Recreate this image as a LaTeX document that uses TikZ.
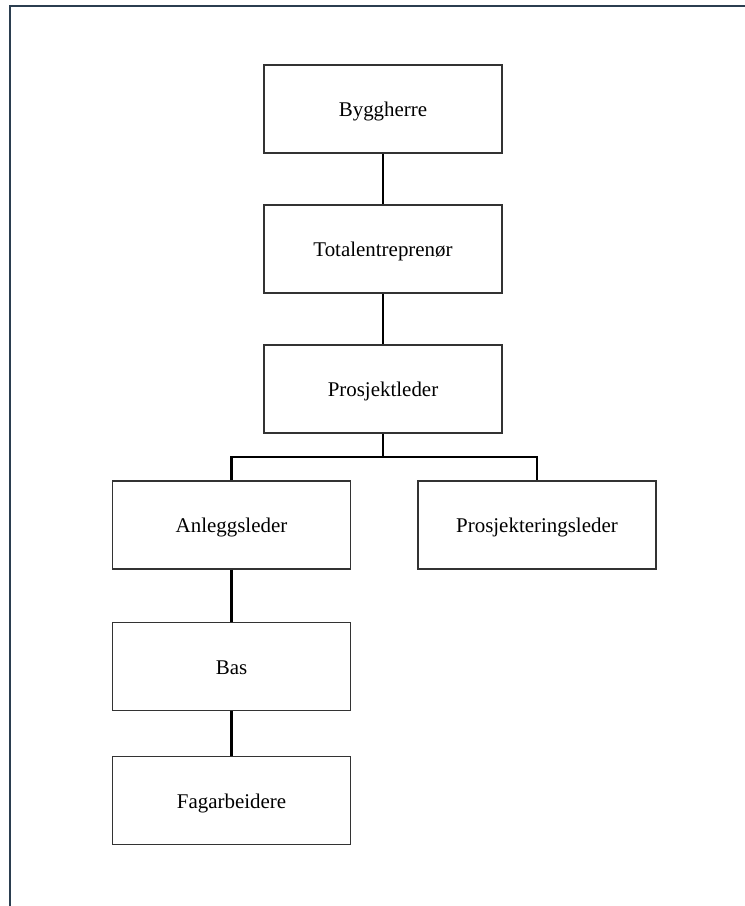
\documentclass[tikz,border=0pt]{standalone}
\usepackage{fontspec}
\setmainfont{Liberation Serif}
\begin{document}
\begin{tikzpicture}[x=0.75pt,y=-0.75pt,
  orgbox/.style={draw=black!80,line width=0.8pt,fill=white,minimum width=178.5pt,minimum height=66pt,inner sep=0pt,text height=11.6pt,text depth=0pt,font=\fontsize{15.7}{18}\selectfont},
  link/.style={draw=black,line width=1.7pt},
  frame/.style={draw=frameblue,line width=1.7pt}]
\definecolor{frameblue}{HTML}{2B3E50}
\useasboundingbox (0,0) rectangle (745,906);
% page frame (top and left edges)
\draw[frame] (10,906) -- (10,6) -- (745,6);
% boxes
\node[orgbox] (bh) at (383,109) {Byggherre};
\node[orgbox] (te) at (383,249) {Totalentreprenør};
\node[orgbox] (pl) at (383,389) {Prosjektleder};
\node[orgbox] (al) at (231.5,525) {Anleggsleder};
\node[orgbox] (pr) at (537,525) {Prosjekteringsleder};
\node[orgbox] (bas) at (231.5,666.5) {Bas};
\node[orgbox] (fa) at (231.5,800.5) {Fagarbeidere};
\coordinate (split) at (383,457);
% connectors
\draw[link] (bh.south) -- (te.north);
\draw[link] (te.south) -- (pl.north);
\draw[link] (pl.south) -- (split);
\draw[link] (al.north) -- (al.north |- split) -- (pr.north |- split) -- (pr.north);
\draw[link] (al.south) -- (bas.north);
\draw[link] (bas.south) -- (fa.north);
\end{tikzpicture}
\end{document}
